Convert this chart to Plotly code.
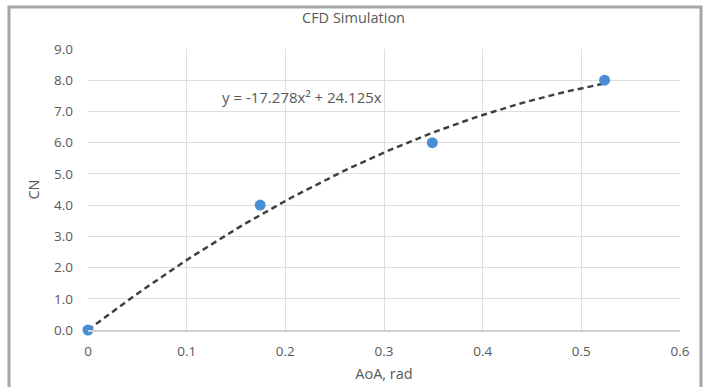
import numpy as np
import plotly.graph_objects as go

aoa = [0.0, 0.1745, 0.349, 0.5236]
cn = [0.0, 4.0, 6.0, 8.0]
coef_a = -17.278
coef_b = 24.125
x_ticks = [0, 0.1, 0.2, 0.3, 0.4, 0.5, 0.6]
x_tick_text = ["0", "0.1", "0.2", "0.3", "0.4", "0.5", "0.6"]
y_ticks = [0, 1, 2, 3, 4, 5, 6, 7, 8, 9]
y_tick_text = ["0.0", "1.0", "2.0", "3.0", "4.0", "5.0", "6.0", "7.0", "8.0", "9.0"]

xf = np.linspace(0, max(aoa), 60)
yf = coef_a * xf**2 + coef_b * xf

fig = go.Figure()
fig.add_trace(go.Scatter(x=xf, y=yf, mode="lines",
                         line=dict(color="#404040", width=2.5, dash="6px,4px"),
                         hoverinfo="skip", showlegend=False, cliponaxis=False))
fig.add_trace(go.Scatter(x=aoa, y=cn, mode="markers",
                         marker=dict(color="#4a8fd6", size=11),
                         showlegend=False, cliponaxis=False))

grey = "#595959"
fig.update_layout(
    width=707, height=387,
    margin=dict(l=88, r=27, t=49, b=57),
    paper_bgcolor="white", plot_bgcolor="white",
    font=dict(family="Open Sans, Lato, sans-serif", size=13, color=grey),
    title=dict(text="CFD Simulation", x=0.5, xanchor="center", y=0.953, yanchor="middle",
               font=dict(size=14.5, color=grey)),
    xaxis=dict(range=[0, 0.6], tickvals=x_ticks, ticktext=x_tick_text,
               showgrid=True, gridcolor="#dedede", gridwidth=1, automargin=False,
               zeroline=False, showline=True, linecolor="#d0d0d0", linewidth=1.5,
               ticks="", ticklen=0, ticklabelstandoff=8,
               tickfont=dict(size=13.5, color=grey),
               title=dict(text="AoA, rad", standoff=10, font=dict(size=14.5, color=grey))),
    yaxis=dict(range=[0, 9], tickvals=y_ticks, ticktext=y_tick_text,
               showgrid=True, gridcolor="#dedede", gridwidth=1, automargin=False,
               zeroline=False, showline=False, ticks="", ticklabelstandoff=14,
               tickfont=dict(size=13.5, color=grey),
               title=dict(text="CN", standoff=10, font=dict(size=14.5, color=grey))),
    shapes=[dict(type="rect", xref="paper", yref="paper",
                 x0=(9 - 88) / 592, x1=(701 - 88) / 592,
                 y0=(330 - 395) / 281, y1=1 + (49 - 7) / 281,
                 line=dict(color="#a6a6a6", width=3), layer="below")],
    annotations=[dict(text="y = -17.278x² + 24.125x", x=(303 - 88) / 990, y=7.47,
                      xref="x", yref="y", showarrow=False,
                      xanchor="center", yanchor="middle",
                      font=dict(size=15, color=grey))],
)
fig.write_html("out.html")
